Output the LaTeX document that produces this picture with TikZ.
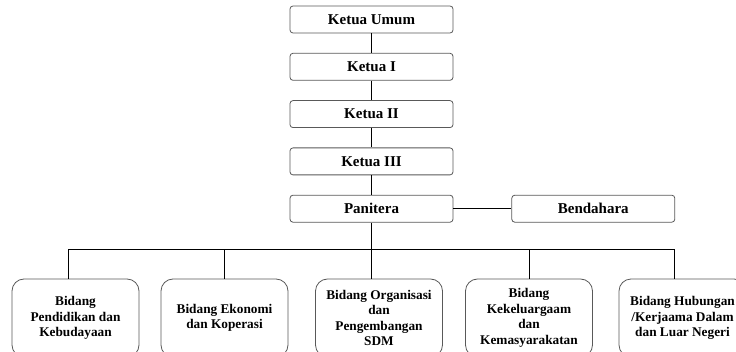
\documentclass[tikz,border=0pt]{standalone}
\usepackage{fontspec}
\setmainfont{Liberation Serif}
\usetikzlibrary{positioning}

\begin{document}
\begin{tikzpicture}[x=1pt,y=1pt,
    node distance=19.5pt,
    jabatan/.style={
        draw=black!65,
        line width=0.8pt,
        rounded corners=3pt,
        minimum width=163pt,
        minimum height=27pt,
        font=\bfseries\fontsize{15}{17}\selectfont
    },
    bidang/.style={
        draw=black!65,
        line width=0.8pt,
        rounded corners=12pt,
        minimum width=127pt,
        minimum height=78pt,
        align=center,
        font=\bfseries\fontsize{13.3}{15.5}\selectfont
    },
    garis/.style={line width=0.7pt}
]
    \useasboundingbox (0,0) rectangle (736,351);
    \clip (0,0) rectangle (736,351);

    % pengurus inti
    \node[jabatan] (umum) at (371.5,331.5) {Ketua Umum};
    \node[jabatan, below=of umum] (ketua1) {Ketua I};
    \node[jabatan, below=of ketua1] (ketua2) {Ketua II};
    \node[jabatan, below=of ketua2] (ketua3) {Ketua III};
    \node[jabatan, below=of ketua3] (panitera) {Panitera};
    \node[jabatan, right=58pt of panitera] (bendahara) {Bendahara};

    % bidang-bidang
    \node[bidang] (bid1) at (75.5,33) {Bidang\\Pendidikan dan\\Kebudayaan};
    \node[bidang] (bid2) at (224.5,33) {Bidang Ekonomi\\dan Koperasi};
    \node[bidang] (bid3) at (379,33) {Bidang Organisasi\\dan\\Pengembangan\\SDM};
    \node[bidang] (bid4) at (529,33) {Bidang\\Kekeluargaam\\dan\\Kemasyarakatan};
    \node[bidang] (bid5) at (682.5,33) {Bidang Hubungan\\/Kerjaama Dalam\\dan Luar Negeri};

    \coordinate (t1) at (68,102);
    \coordinate (t2) at (224,102);
    \coordinate (t4) at (529,102);
    \coordinate (t5) at (674,102);

    % garis
    \draw[garis] (umum) -- (ketua1);
    \draw[garis] (ketua1) -- (ketua2);
    \draw[garis] (ketua2) -- (ketua3);
    \draw[garis] (ketua3) -- (panitera);
    \draw[garis] (panitera) -- (bendahara);
    \draw[garis] (panitera.south) -- (panitera.south |- bid3.north);
    \draw[garis] (t1) -- (t5);
    \draw[garis] (t1) -- (t1 |- bid1.north);
    \draw[garis] (t2) -- (t2 |- bid2.north);
    \draw[garis] (t4) -- (t4 |- bid4.north);
    \draw[garis] (t5) -- (t5 |- bid5.north);

\end{tikzpicture}
\end{document}
